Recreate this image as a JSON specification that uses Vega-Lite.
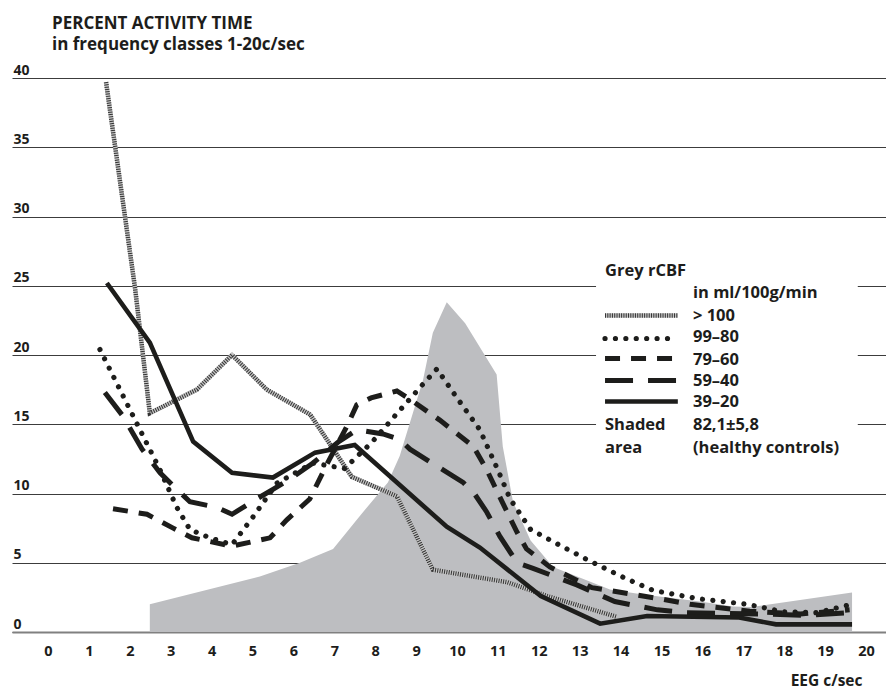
{
  "$schema": "https://vega.github.io/schema/vega-lite/v6.json",
  "width": 874,
  "height": 554,
  "autosize": {"type": "none"},
  "padding": {"left": 12, "top": 78, "right": 0, "bottom": 59},
  "background": "white",
  "config": {"view": {"stroke": null}},
  "title": {
    "text": ["PERCENT ACTIVITY TIME", "in frequency classes 1-20c/sec"],
    "anchor": "start",
    "frame": "group",
    "dx": 40,
    "offset": 9,
    "font": "Open Sans",
    "fontWeight": "bold",
    "fontSize": 17,
    "lineHeight": 21,
    "color": "#1d1d1b"
  },
  "datasets": {
    "curves": [
      {"s": ">100", "p": "d", "x": 1.42, "y": 39.7},
      {"s": ">100", "p": "d", "x": 2.13, "y": 24.8},
      {"s": ">100", "p": "d", "x": 2.49, "y": 15.8},
      {"s": ">100", "p": "d", "x": 3.64, "y": 17.5},
      {"s": ">100", "p": "d", "x": 4.5, "y": 20.0},
      {"s": ">100", "p": "d", "x": 5.35, "y": 17.5},
      {"s": ">100", "p": "d", "x": 6.41, "y": 15.7},
      {"s": ">100", "p": "d", "x": 7.43, "y": 11.2},
      {"s": ">100", "p": "d", "x": 8.53, "y": 9.8},
      {"s": ">100", "p": "d", "x": 9.41, "y": 4.5},
      {"s": ">100", "p": "d", "x": 11.22, "y": 3.6},
      {"s": ">100", "p": "d", "x": 12.2, "y": 2.6},
      {"s": ">100", "p": "d", "x": 13.9, "y": 1.1},
      {"s": ">100", "p": "k", "x": 13.62, "y": 22.85},
      {"s": ">100", "p": "k", "x": 15.4, "y": 22.85},

      {"s": "99-80", "p": "d", "x": 1.27, "y": 20.4},
      {"s": "99-80", "p": "d", "x": 1.76, "y": 17.5},
      {"s": "99-80", "p": "d", "x": 2.25, "y": 14.6},
      {"s": "99-80", "p": "d", "x": 2.74, "y": 11.7},
      {"s": "99-80", "p": "d", "x": 3.15, "y": 9.0},
      {"s": "99-80", "p": "d", "x": 3.47, "y": 7.4},
      {"s": "99-80", "p": "d", "x": 3.96, "y": 6.8},
      {"s": "99-80", "p": "d", "x": 4.5, "y": 6.3},
      {"s": "99-80", "p": "d", "x": 5.01, "y": 8.3},
      {"s": "99-80", "p": "d", "x": 5.6, "y": 10.75},
      {"s": "99-80", "p": "d", "x": 6.48, "y": 12.2},
      {"s": "99-80", "p": "d", "x": 7.25, "y": 11.8},
      {"s": "99-80", "p": "d", "x": 7.92, "y": 13.7},
      {"s": "99-80", "p": "d", "x": 8.6, "y": 16.0},
      {"s": "99-80", "p": "d", "x": 9.17, "y": 17.9},
      {"s": "99-80", "p": "d", "x": 9.51, "y": 19.0},
      {"s": "99-80", "p": "d", "x": 10.0, "y": 16.9},
      {"s": "99-80", "p": "d", "x": 10.56, "y": 14.6},
      {"s": "99-80", "p": "d", "x": 11.0, "y": 11.7},
      {"s": "99-80", "p": "d", "x": 11.3, "y": 9.6},
      {"s": "99-80", "p": "d", "x": 11.8, "y": 7.4},
      {"s": "99-80", "p": "d", "x": 12.3, "y": 6.6},
      {"s": "99-80", "p": "d", "x": 13.2, "y": 5.2},
      {"s": "99-80", "p": "d", "x": 14.1, "y": 3.9},
      {"s": "99-80", "p": "d", "x": 14.8, "y": 3.0},
      {"s": "99-80", "p": "d", "x": 15.9, "y": 2.4},
      {"s": "99-80", "p": "d", "x": 17.1, "y": 2.0},
      {"s": "99-80", "p": "d", "x": 18.0, "y": 1.45},
      {"s": "99-80", "p": "d", "x": 18.8, "y": 1.4},
      {"s": "99-80", "p": "d", "x": 19.66, "y": 2.0},
      {"s": "99-80", "p": "k", "x": 13.62, "y": 21.19},
      {"s": "99-80", "p": "k", "x": 15.4, "y": 21.19},

      {"s": "79-60", "p": "d", "x": 1.59, "y": 8.9},
      {"s": "79-60", "p": "d", "x": 2.42, "y": 8.5},
      {"s": "79-60", "p": "d", "x": 3.06, "y": 7.5},
      {"s": "79-60", "p": "d", "x": 3.52, "y": 6.8},
      {"s": "79-60", "p": "d", "x": 4.5, "y": 6.2},
      {"s": "79-60", "p": "d", "x": 5.43, "y": 6.8},
      {"s": "79-60", "p": "d", "x": 5.84, "y": 8.1},
      {"s": "79-60", "p": "d", "x": 6.4, "y": 9.6},
      {"s": "79-60", "p": "d", "x": 6.8, "y": 12.0},
      {"s": "79-60", "p": "d", "x": 7.3, "y": 14.8},
      {"s": "79-60", "p": "d", "x": 7.55, "y": 16.4},
      {"s": "79-60", "p": "d", "x": 7.9, "y": 16.9},
      {"s": "79-60", "p": "d", "x": 8.53, "y": 17.4},
      {"s": "79-60", "p": "d", "x": 8.85, "y": 16.8},
      {"s": "79-60", "p": "d", "x": 9.58, "y": 15.3},
      {"s": "79-60", "p": "d", "x": 10.4, "y": 13.4},
      {"s": "79-60", "p": "d", "x": 10.73, "y": 11.7},
      {"s": "79-60", "p": "d", "x": 11.12, "y": 9.3},
      {"s": "79-60", "p": "d", "x": 11.47, "y": 7.2},
      {"s": "79-60", "p": "d", "x": 11.7, "y": 6.0},
      {"s": "79-60", "p": "d", "x": 12.27, "y": 4.7},
      {"s": "79-60", "p": "d", "x": 13.3, "y": 3.2},
      {"s": "79-60", "p": "d", "x": 14.96, "y": 2.4},
      {"s": "79-60", "p": "d", "x": 15.7, "y": 2.0},
      {"s": "79-60", "p": "d", "x": 17.16, "y": 1.5},
      {"s": "79-60", "p": "d", "x": 18.4, "y": 1.3},
      {"s": "79-60", "p": "d", "x": 19.6, "y": 1.6},
      {"s": "79-60", "p": "k", "x": 13.62, "y": 19.75},
      {"s": "79-60", "p": "k", "x": 15.4, "y": 19.75},

      {"s": "59-40", "p": "d", "x": 1.39, "y": 17.3},
      {"s": "59-40", "p": "d", "x": 1.83, "y": 15.6},
      {"s": "59-40", "p": "d", "x": 2.3, "y": 13.2},
      {"s": "59-40", "p": "d", "x": 2.74, "y": 11.5},
      {"s": "59-40", "p": "d", "x": 3.15, "y": 10.3},
      {"s": "59-40", "p": "d", "x": 3.47, "y": 9.4},
      {"s": "59-40", "p": "d", "x": 4.13, "y": 9.0},
      {"s": "59-40", "p": "d", "x": 4.5, "y": 8.5},
      {"s": "59-40", "p": "d", "x": 5.1, "y": 9.6},
      {"s": "59-40", "p": "d", "x": 5.5, "y": 10.3},
      {"s": "59-40", "p": "d", "x": 5.9, "y": 11.0},
      {"s": "59-40", "p": "d", "x": 6.48, "y": 12.2},
      {"s": "59-40", "p": "d", "x": 7.09, "y": 13.7},
      {"s": "59-40", "p": "d", "x": 7.55, "y": 14.6},
      {"s": "59-40", "p": "d", "x": 8.19, "y": 14.3},
      {"s": "59-40", "p": "d", "x": 8.6, "y": 13.9},
      {"s": "59-40", "p": "d", "x": 8.85, "y": 13.2},
      {"s": "59-40", "p": "d", "x": 9.66, "y": 11.7},
      {"s": "59-40", "p": "d", "x": 10.15, "y": 10.8},
      {"s": "59-40", "p": "d", "x": 10.4, "y": 10.1},
      {"s": "59-40", "p": "d", "x": 10.73, "y": 8.65},
      {"s": "59-40", "p": "d", "x": 11.05, "y": 6.9},
      {"s": "59-40", "p": "d", "x": 11.47, "y": 5.0},
      {"s": "59-40", "p": "d", "x": 11.86, "y": 4.6},
      {"s": "59-40", "p": "d", "x": 12.93, "y": 3.4},
      {"s": "59-40", "p": "d", "x": 13.86, "y": 2.2},
      {"s": "59-40", "p": "d", "x": 14.9, "y": 1.6},
      {"s": "59-40", "p": "d", "x": 15.6, "y": 1.4},
      {"s": "59-40", "p": "d", "x": 17.5, "y": 1.3},
      {"s": "59-40", "p": "d", "x": 18.5, "y": 1.2},
      {"s": "59-40", "p": "d", "x": 19.6, "y": 1.4},
      {"s": "59-40", "p": "k", "x": 13.62, "y": 18.16},
      {"s": "59-40", "p": "k", "x": 15.4, "y": 18.16},

      {"s": "39-20", "p": "d", "x": 1.44, "y": 25.2},
      {"s": "39-20", "p": "d", "x": 2.49, "y": 20.9},
      {"s": "39-20", "p": "d", "x": 3.55, "y": 13.75},
      {"s": "39-20", "p": "d", "x": 4.5, "y": 11.5},
      {"s": "39-20", "p": "d", "x": 5.5, "y": 11.15},
      {"s": "39-20", "p": "d", "x": 6.53, "y": 12.95},
      {"s": "39-20", "p": "d", "x": 7.5, "y": 13.5},
      {"s": "39-20", "p": "d", "x": 9.75, "y": 7.6},
      {"s": "39-20", "p": "d", "x": 10.56, "y": 6.1},
      {"s": "39-20", "p": "d", "x": 12.05, "y": 2.6},
      {"s": "39-20", "p": "d", "x": 13.5, "y": 0.6},
      {"s": "39-20", "p": "d", "x": 14.65, "y": 1.15},
      {"s": "39-20", "p": "d", "x": 16.9, "y": 1.05},
      {"s": "39-20", "p": "d", "x": 17.8, "y": 0.55},
      {"s": "39-20", "p": "d", "x": 19.66, "y": 0.55},
      {"s": "39-20", "p": "k", "x": 13.62, "y": 16.64},
      {"s": "39-20", "p": "k", "x": 15.4, "y": 16.64}
    ],
    "area": [
      {"x": 2.49, "y": 2.0},
      {"x": 5.18, "y": 4.0},
      {"x": 6.16, "y": 5.0},
      {"x": 6.97, "y": 6.0},
      {"x": 7.63, "y": 8.4},
      {"x": 8.31, "y": 10.8},
      {"x": 8.6, "y": 12.7},
      {"x": 8.92, "y": 15.8},
      {"x": 9.17, "y": 18.2},
      {"x": 9.41, "y": 21.6},
      {"x": 9.75, "y": 23.8},
      {"x": 10.2, "y": 22.3},
      {"x": 10.97, "y": 18.6},
      {"x": 11.12, "y": 13.4},
      {"x": 11.37, "y": 9.4},
      {"x": 11.8, "y": 6.6},
      {"x": 12.35, "y": 4.7},
      {"x": 13.74, "y": 3.07},
      {"x": 14.55, "y": 2.7},
      {"x": 15.94, "y": 2.2},
      {"x": 16.75, "y": 1.85},
      {"x": 17.2, "y": 1.8},
      {"x": 19.66, "y": 2.85}
    ],
    "box": [{"x": 13.4, "x2": 19.8, "y": 12.2, "y2": 26.6}],
    "labels": [
      {"x": 13.62, "y": 25.67, "t": "Grey rCBF"},
      {"x": 15.77, "y": 24.15, "t": "in ml/100g/min"},
      {"x": 15.77, "y": 22.49, "t": "> 100"},
      {"x": 15.77, "y": 20.97, "t": "99–80"},
      {"x": 15.77, "y": 19.31, "t": "79–60"},
      {"x": 15.77, "y": 17.73, "t": "59–40"},
      {"x": 15.77, "y": 16.21, "t": "39–20"},
      {"x": 13.62, "y": 14.55, "t": "Shaded"},
      {"x": 15.77, "y": 14.55, "t": "82,1±5,8"},
      {"x": 13.62, "y": 12.96, "t": "area"},
      {"x": 15.77, "y": 12.96, "t": "(healthy controls)"}
    ]
  },
  "encoding": {
    "x": {
      "field": "x",
      "type": "quantitative",
      "scale": {"domain": [-0.88, 20.49], "nice": false, "zero": false},
      "axis": {
        "values": [0, 1, 2, 3, 4, 5, 6, 7, 8, 9, 10, 11, 12, 13, 14, 15, 16, 17, 18, 19, 20],
        "grid": false,
        "ticks": false,
        "domain": true,
        "domainColor": "#808080",
        "domainWidth": 2,
        "labelFlush": false,
        "labelFont": "Open Sans",
        "labelFontWeight": "bold",
        "labelFontSize": 14.5,
        "labelPadding": 12,
        "labelColor": "#1d1d1b",
        "title": "EEG c/sec",
        "titleFont": "Open Sans",
        "titleFontWeight": "bold",
        "titleFontSize": 15.5,
        "titleColor": "#1d1d1b",
        "titleX": 850,
        "titleY": 53,
        "titleAlign": "right",
        "titleBaseline": "alphabetic"
      }
    },
    "y": {
      "field": "y",
      "type": "quantitative",
      "scale": {"domain": [0, 40], "nice": false},
      "axis": {
        "values": [0, 5, 10, 15, 20, 25, 30, 35, 40],
        "grid": true,
        "gridColor": "#3c3c3c",
        "gridWidth": 1,
        "domain": false,
        "ticks": false,
        "labelFlush": false,
        "labelAlign": "left",
        "labelBaseline": "alphabetic",
        "labelPadding": -1,
        "labelOffset": -4,
        "labelFont": "Open Sans",
        "labelFontWeight": "bold",
        "labelFontSize": 14,
        "labelColor": "#1d1d1b",
        "title": null
      }
    }
  },
  "layer": [
    {
      "data": {"name": "box"},
      "mark": {"type": "rect", "fill": "white", "stroke": null},
      "encoding": {"x2": {"field": "x2"}, "y2": {"field": "y2"}}
    },
    {
      "data": {"name": "area"},
      "mark": {"type": "area", "color": "#bdbec1", "interpolate": "linear"}
    },
    {
      "data": {"name": "curves"},
      "transform": [{"filter": "datum.s === '>100'"}],
      "mark": {"type": "line", "color": "#c4c4c4", "strokeWidth": 4.5},
      "encoding": {"detail": {"field": "p"}}
    },
    {
      "data": {"name": "curves"},
      "transform": [{"filter": "datum.s === '>100'"}],
      "mark": {"type": "line", "color": "#333333", "strokeWidth": 4.5, "strokeDash": [1, 1.3]},
      "encoding": {"detail": {"field": "p"}}
    },
    {
      "data": {"name": "curves"},
      "transform": [{"filter": "datum.s === '99-80'"}],
      "mark": {"type": "line", "color": "#1d1d1b", "strokeWidth": 5.2, "strokeDash": [0.01, 10.4], "strokeCap": "round"},
      "encoding": {"detail": {"field": "p"}}
    },
    {
      "data": {"name": "curves"},
      "transform": [{"filter": "datum.s === '79-60'"}],
      "mark": {"type": "line", "color": "#1d1d1b", "strokeWidth": 5, "strokeDash": [15, 11]},
      "encoding": {"detail": {"field": "p"}}
    },
    {
      "data": {"name": "curves"},
      "transform": [{"filter": "datum.s === '59-40'"}],
      "mark": {"type": "line", "color": "#1d1d1b", "strokeWidth": 5, "strokeDash": [28, 15]},
      "encoding": {"detail": {"field": "p"}}
    },
    {
      "data": {"name": "curves"},
      "transform": [{"filter": "datum.s === '39-20'"}],
      "mark": {"type": "line", "color": "#1d1d1b", "strokeWidth": 4.6},
      "encoding": {"detail": {"field": "p"}}
    },
    {
      "data": {"name": "labels"},
      "mark": {"type": "text", "font": "Open Sans", "fontWeight": "bold", "fontSize": 16.5, "align": "left", "baseline": "alphabetic", "color": "#1d1d1b"},
      "encoding": {"text": {"field": "t"}}
    }
  ]
}
